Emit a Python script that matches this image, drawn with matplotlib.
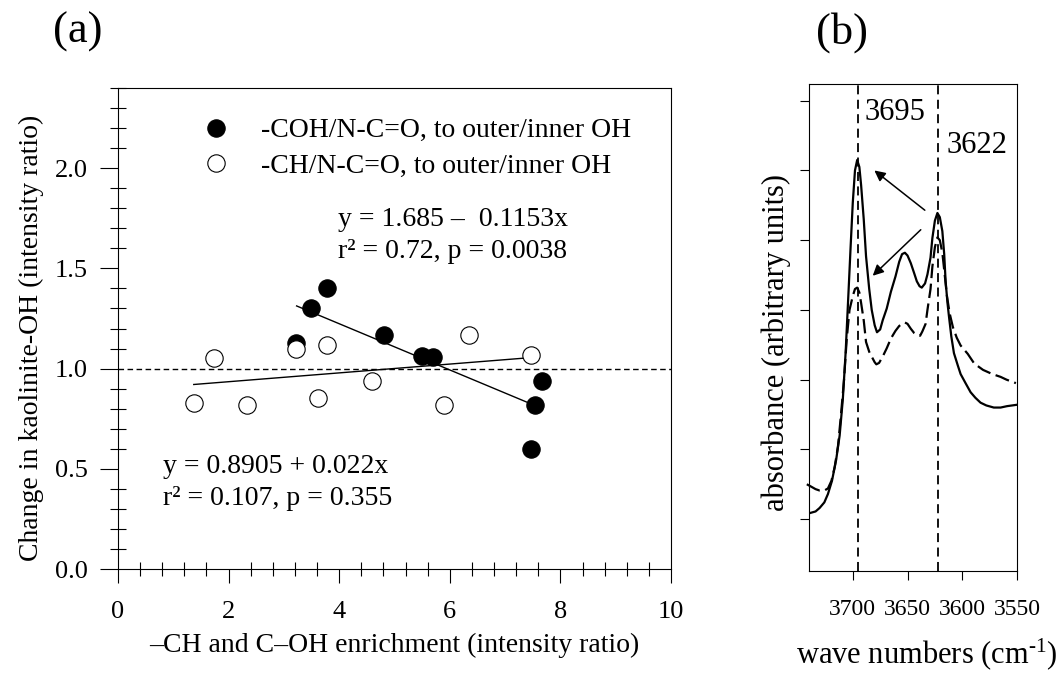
import numpy as np
import matplotlib
matplotlib.use("Agg")
import matplotlib.pyplot as plt
from matplotlib.ticker import MultipleLocator, FormatStrFormatter

plt.rcParams['font.family'] = ['Liberation Serif', 'DejaVu Serif']
plt.rcParams['mathtext.fontset'] = 'custom'
plt.rcParams['mathtext.rm'] = 'Liberation Serif'
plt.rcParams['mathtext.it'] = 'Liberation Serif:italic'

# ---------------- Panel (a) data ----------------
coh_x = [3.22, 3.49, 3.78, 4.81, 5.49, 5.69, 7.67, 7.54, 7.47]
coh_y = [1.128, 1.30, 1.40, 1.17, 1.064, 1.056, 0.94, 0.82, 0.60]
ch_x = [1.37, 1.73, 2.34, 3.22, 3.62, 3.78, 4.60, 5.90, 6.35, 7.47]
ch_y = [0.828, 1.052, 0.82, 1.10, 0.854, 1.12, 0.94, 0.82, 1.17, 1.069]

coh_fit_intercept, coh_fit_slope = 1.685, -0.1153
ch_fit_intercept, ch_fit_slope = 0.8905, 0.022
coh_fit_range = [3.23, 7.40]
ch_fit_range = [1.37, 7.47]

coh_label = "-COH/N-C=O, to outer/inner OH"
ch_label = "-CH/N-C=O, to outer/inner OH"
coh_eq = ["y = 1.685 \u2013  0.1153x", "r\u00b2 = 0.72, p = 0.0038"]
ch_eq = ["y = 0.8905 + 0.022x", "r\u00b2 = 0.107, p = 0.355"]

# ---------------- Panel (b) data ----------------
solid_wn = [3738.5, 3734, 3730.3, 3726, 3722.7, 3719, 3715.2, 3712, 3709.1, 3706.5,
            3703.9, 3702, 3700, 3698, 3696, 3694, 3692.4, 3690, 3687.9, 3685,
            3682.7, 3680, 3677.9, 3675, 3672.7, 3669, 3665.2, 3661, 3657.6, 3655,
            3652.4, 3650, 3647, 3644, 3641.5, 3639, 3637, 3634, 3631.8, 3629,
            3627.3, 3625, 3622.7, 3620.5, 3618.2, 3616.5, 3615.2, 3613.5, 3612.1, 3610,
            3607.6, 3604, 3601.5, 3597, 3592.4, 3588, 3583.3, 3578, 3571.2, 3565,
            3559.1, 3550]
solid_abs = [0.09, 0.11, 0.16, 0.24, 0.36, 0.55, 0.85, 1.2, 1.72, 2.4,
             3.26, 3.9, 4.54, 5.0, 5.15, 5.05, 4.79, 4.3, 3.77, 3.3,
             3.0, 2.78, 2.68, 2.72, 2.85, 3.02, 3.26, 3.48, 3.69, 3.8,
             3.82, 3.78, 3.67, 3.53, 3.41, 3.34, 3.32, 3.38, 3.51, 3.75,
             4.03, 4.28, 4.39, 4.33, 4.13, 3.8, 3.41, 3.1, 2.9, 2.62,
             2.38, 2.2, 2.08, 1.95, 1.82, 1.74, 1.67, 1.63, 1.6, 1.6,
             1.62, 1.64]
dashed_wn = [3742, 3738.5, 3734, 3730.3, 3726, 3722.7, 3719.5, 3716.5, 3713.5, 3711,
             3708, 3705.5, 3703, 3700, 3698, 3696, 3694, 3692.4, 3690, 3687.9,
             3685, 3682.7, 3680, 3678.5, 3676, 3672.7, 3669, 3665.2, 3661, 3657.6,
             3655, 3652.4, 3650, 3647, 3644, 3641, 3638.5, 3636.5, 3633.5, 3631.8,
             3629, 3627.3, 3625, 3622.7, 3620.5, 3618.2, 3616, 3614, 3611.5, 3608.5,
             3605, 3601.5, 3595, 3589, 3581, 3572.5, 3565, 3559.6, 3551]
dashed_abs = [0.50, 0.47, 0.43, 0.41, 0.41, 0.44, 0.55, 0.75, 1.05, 1.46,
              2.0, 2.59, 3.0, 3.2, 3.3, 3.32, 3.25, 3.1, 2.85, 2.54,
              2.4, 2.33, 2.25, 2.22, 2.24, 2.33, 2.45, 2.59, 2.7, 2.77,
              2.8, 2.82, 2.8, 2.73, 2.67, 2.64, 2.63, 2.69, 2.8, 3.0,
              3.3, 3.62, 3.9, 4.04, 4.0, 3.82, 3.5, 3.2, 2.95, 2.75,
              2.6, 2.49, 2.37, 2.23, 2.14, 2.08, 2.04, 2.0, 1.95]
peak_positions = [3695, 3622]
peak_labels = ["3695", "3622"]
b_xticks = [3700, 3650, 3600, 3550]

# ---------------- Figure ----------------
W, H = 1063, 674
fig = plt.figure(figsize=(W / 100, H / 100), dpi=100)

def px_axes(l, t, r, b):
    return fig.add_axes([l / W, 1 - b / H, (r - l) / W, (b - t) / H])

# Panel (a)
ax = px_axes(118, 88, 671, 569)
ax.set_xlim(0, 10)
ax.set_ylim(0, 2.4)
ax.axhline(1.0, color='black', lw=1.0, ls=(0, (4, 2.5)), zorder=1)

fx = np.array(coh_fit_range)
ax.plot(fx, coh_fit_intercept + coh_fit_slope * fx, color='black', lw=1.0, zorder=2)
fx2 = np.array(ch_fit_range)
ax.plot(fx2, ch_fit_intercept + ch_fit_slope * fx2, color='black', lw=1.0, zorder=2)

ax.plot(coh_x, coh_y, 'o', ms=12.5, mfc='black', mec='black', mew=0.8, ls='none',
        zorder=3, label=coh_label)
ax.plot(ch_x, ch_y, 'o', ms=12.5, mfc='white', mec='black', mew=0.8, ls='none',
        zorder=4, label=ch_label)

ax.legend(loc='upper left', bbox_to_anchor=(0.152, 0.938), frameon=False,
          fontsize=20, handlelength=1.0, handletextpad=1.12, labelspacing=0.36,
          borderpad=0, borderaxespad=0)

ax.text(3.97, 1.71, coh_eq[0], fontsize=20, ha='left', va='baseline')
ax.text(3.97, 1.553, coh_eq[1], fontsize=20, ha='left', va='baseline')
ax.text(0.81, 0.477, ch_eq[0], fontsize=20, ha='left', va='baseline')
ax.text(0.81, 0.32, ch_eq[1], fontsize=20, ha='left', va='baseline')

ax.xaxis.set_major_locator(MultipleLocator(2))
ax.xaxis.set_minor_locator(MultipleLocator(0.4))
ax.yaxis.set_major_locator(MultipleLocator(0.5))
ax.yaxis.set_minor_locator(MultipleLocator(0.1))
ax.yaxis.set_major_formatter(FormatStrFormatter('%.1f'))
ax.tick_params(which='both', top=False, right=False, width=0.8)
ax.tick_params(axis='x', which='major', direction='out', length=10, labelsize=19, pad=13)
ax.tick_params(axis='x', which='minor', direction='inout', length=10)
ax.tick_params(axis='y', which='major', direction='out', length=13, labelsize=19, pad=9)
ax.tick_params(axis='y', which='minor', direction='inout', length=11)
for s in ax.spines.values():
    s.set_linewidth(0.8)
ax.set_xlabel("\u2013CH and C\u2013OH enrichment (intensity ratio)", fontsize=20, labelpad=7)
ax.set_ylabel("Change in kaolinite-OH (intensity ratio)", fontsize=20)
ax.yaxis.set_label_coords((44 - 118) / 553, 0.48)

fig.text(78 / W, 1 - 32 / H, "(a)", fontsize=32, ha='center', va='center')

# Panel (b)
bx = px_axes(809, 84, 1017, 571)
bx.set_xlim(3740, 3550)
bx.set_ylim(-0.744, 6.24)
for p in peak_positions:
    bx.axvline(p, color='black', lw=1.3, ls=(0, (5, 3)), zorder=1)
bx.plot(solid_wn, solid_abs, color='black', lw=1.6, zorder=3)
bx.plot(dashed_wn, dashed_abs, color='black', lw=1.6, ls=(0, (6.5, 2.5)), zorder=3,
        clip_on=False)
bx.annotate("", xy=(3680.3, 5.0), xytext=(3634.2, 4.43),
            arrowprops=dict(arrowstyle='-|>', color='black', lw=1.1,
                            mutation_scale=16, shrinkA=0, shrinkB=0))
bx.annotate("", xy=(3681.8, 3.49), xytext=(3637.9, 4.15),
            arrowprops=dict(arrowstyle='-|>', color='black', lw=1.1,
                            mutation_scale=16, shrinkA=0, shrinkB=0))
bx.text(3688.9, 5.72, peak_labels[0], fontsize=22, ha='left', va='baseline')
bx.text(3614.2, 5.25, peak_labels[1], fontsize=22, ha='left', va='baseline')

bx.set_xticks(b_xticks)
bx.set_xticklabels([str(v) for v in b_xticks])
bx.set_yticks(range(0, 7))
bx.set_yticklabels([])
bx.tick_params(direction='out', length=6.5, width=0.8, labelsize=17,
               top=False, right=False, pad=14)
for s in bx.spines.values():
    s.set_linewidth(0.8)
bx.set_xlabel("wave numbers (cm$^{\\text{-1}}$)", fontsize=22)
bx.xaxis.set_label_coords(0.567, (571 - 636) / 487)
bx.set_ylabel("absorbance (arbitrary units)", fontsize=22)
bx.yaxis.set_label_coords((791 - 809) / 208, 0.47)

fig.text(842 / W, 1 - 33 / H, "(b)", fontsize=32, ha='center', va='center')

fig.savefig("out.png", dpi=100)
